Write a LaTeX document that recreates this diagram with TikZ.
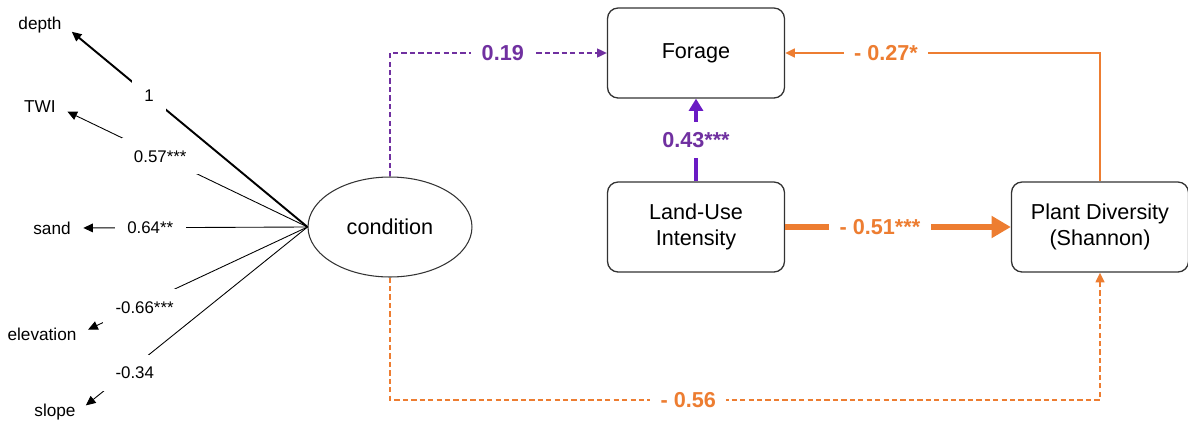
\documentclass[tikz,border=0pt]{standalone}
\usepackage{fontspec}
\setmainfont{Liberation Sans}
\usepackage{tikz}
\usetikzlibrary{positioning}
\usetikzlibrary{arrows.meta, shapes.geometric, calc}
\definecolor{lilac}{HTML}{7030A0}
\definecolor{violet}{HTML}{6A1BC4}
\definecolor{amber}{HTML}{ED7D31}
\tikzstyle{box} = [rectangle, rounded corners=6pt, minimum width=3.54cm, minimum height=1.8cm, align=center, draw=black!80, line width=0.75pt, font=\fontsize{12.3}{14.5}\selectfont]
\tikzstyle{latent} = [ellipse, minimum width=3.28cm, minimum height=2cm, draw=black!80, line width=0.6pt, font=\fontsize{12.3}{14.5}\selectfont]
\tikzstyle{indicator} = [inner sep=1pt, font=\fontsize{9.8}{11}\selectfont]
\tikzstyle{load} = [fill=white, inner sep=7pt, font=\fontsize{9.6}{11}\selectfont]
\tikzstyle{coef} = [fill=white, inner sep=6pt, font=\bfseries\fontsize{12.3}{14}\selectfont]
\tikzstyle{arrow} = [-{Triangle[width=5pt,length=5.5pt]}]
\tikzstyle{dashes} = [dash pattern=on 3pt off 1.8pt]

\begin{document}
\begin{tikzpicture}[x=0.02cm, y=-0.02cm]
      \useasboundingbox (0,0) rectangle (1188,423);
      %%%%%%%%%%%%%%%%%%%%%%%%%%%%%%%%%%%%%%%
      \node (cond) [latent] at (390,227) {condition};
      \node (forage) [box] at (696,53) {Forage};
      \node (lui) [box] at (696,227) {Land-Use\\Intensity};
      \node (pdiv) [box] at (1100,227) {Plant Diversity\\(Shannon)};
      %%%%%%%%%%%%%%%%%%%%%%%%%%%%%%%%%%%%%%%
      \node (depth) [indicator] at (40,25) {depth};
      \node (twi) [indicator] at (40,107) {TWI};
      \node (sand) [indicator] at (52,228) {sand};
      \node (elev) [indicator] at (42,334) {elevation};
      \node (slope) [indicator] at (55,412) {slope};
      \draw[arrow, line width=1.1pt, shorten >=6pt] (cond.west) -- node[load, pos=0.65] {1} (depth.east);
      \draw[arrow, line width=0.5pt, shorten >=6pt] (cond.west) -- node[load, pos=0.59] {0.57***} (twi.east);
      \draw[arrow, line width=0.5pt, shorten >=6pt] (cond.west) -- node[load, pos=0.67] {0.64**} (sand.east);
      \draw[arrow, line width=0.5pt, shorten >=6pt] (cond.west) -- node[load, pos=0.75, xshift=5pt] {-0.66***} (elev.east);
      \draw[arrow, line width=0.5pt, shorten >=6pt] (cond.west) -- node[load, pos=0.79, xshift=5pt] {-0.34} (slope.east);
      %%%%%%%%%%%%%%%%%%%%%%%%%%%%%%%%%%%%%%%
      \draw[lilac, arrow, dashes, line width=0.9pt] (cond.north) |- node[coef, pos=0.76] {0.19} (forage.west);
      \draw[violet, -{Triangle[width=8pt,length=7pt]}, line width=2.4pt] (lui.north) -- node[coef, text=lilac] {0.43***} (forage.south);
      \draw[amber, arrow, line width=1.1pt] (pdiv.north) |- node[coef, pos=0.84] {- 0.27*} (forage.east);
      \draw[amber, -{Triangle[width=12pt,length=11pt]}, line width=3.8pt] (lui.east) -- node[coef, pos=0.42] {- 0.51***} (pdiv.west);
      \draw[amber, arrow, dashes, line width=1pt] (cond.south) |- node[coef, pos=0.71] {- 0.56} ($(pdiv.south)+(0,127)$) -- (pdiv.south);
\end{tikzpicture}
\end{document}
